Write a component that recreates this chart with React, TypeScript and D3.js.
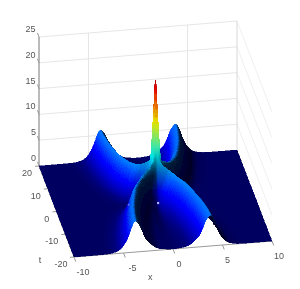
import React, { useEffect, useRef } from 'react';
import * as d3 from 'd3';

// one quadrant of the surface (x >= 0, t >= 0), the picture is mirrored in both axes.
// each row is read across the ridge: inner columns are fractions of the ridge position,
// outer columns are distances past the ridge
const tValues = [0, 0.3, 0.6, 1, 1.5, 2, 3, 4, 5, 7, 10, 14, 20];
const ridgeX = [0.01, 0.05, 0.18, 0.5, 0.9, 1.25, 1.7, 2, 2.3, 2.7, 3.1, 3.5, 3.8];
const innerFractions = [0, 0.35, 0.7, 0.9, 1];
const outerOffsets = [0.12, 0.25, 0.5, 0.75, 1, 1.5, 2, 3, 4, 6.5];
const zRows = [
  [24, 24, 24, 24, 24, 20, 15.5, 8.5, 5.5, 3.8, 2, 1, 0.25, 0.04, 0],
  [15, 15, 15, 15, 15, 13.6, 11, 7, 4.8, 3.5, 1.9, 0.9, 0.2, 0.03, 0],
  [9.8, 9.9, 10, 10, 10, 9.3, 8, 5.9, 4.4, 3.3, 1.8, 0.8, 0.15, 0.02, 0],
  [6, 6.6, 7.6, 8, 8, 7.6, 6.7, 5.3, 4.2, 3.1, 1.6, 0.7, 0.12, 0.02, 0],
  [4, 4.6, 6.2, 7.2, 7.5, 7.2, 6.3, 5.1, 4, 3, 1.4, 0.6, 0.1, 0.01, 0],
  [2.8, 3.4, 5.2, 6.7, 7, 6.8, 6.1, 5, 3.9, 2.8, 1.2, 0.5, 0.08, 0.01, 0],
  [1.4, 2.3, 4.6, 6.2, 6.6, 6.4, 5.9, 4.8, 3.6, 2.5, 1.05, 0.42, 0.06, 0, 0],
  [0.8, 1.7, 4.1, 6, 6.4, 6.2, 5.8, 4.6, 3.4, 2.3, 1, 0.36, 0.05, 0, 0],
  [0.45, 1.4, 3.8, 5.9, 6.3, 6.1, 5.7, 4.4, 3.2, 2.2, 0.9, 0.32, 0.04, 0, 0],
  [0.2, 1, 3.4, 5.8, 6.2, 6, 5.6, 4.3, 3, 2.1, 0.85, 0.3, 0.03, 0, 0],
  [0.06, 0.7, 2.9, 5.4, 6, 5.8, 5.4, 4.2, 2.9, 2, 0.8, 0.3, 0.02, 0, 0],
  [0.03, 0.45, 2.5, 5.3, 6, 5.8, 5.4, 4.2, 2.9, 2, 0.8, 0.3, 0.02, 0, 0],
  [0.02, 0.3, 2.2, 5.3, 6, 5.8, 5.4, 4.2, 2.9, 2, 0.8, 0.3, 0.02, 0, 0],
];

const xTicks = [-10, -5, 0, 5, 10];
const tTicks = [-20, -10, 0, 10, 20];
const zTicks = [0, 5, 10, 15, 20, 25];
const backGridX = [-5, 5];

const width = 300;
const height = 289;

// orthographic view, measured off the box corners
const xToSx = d3.scaleLinear().domain([-10, 10]).range([-99, 99]);
const xToSy = d3.scaleLinear().domain([-10, 10]).range([8, -8]);
const tToSx = d3.scaleLinear().domain([-20, 20]).range([17.5, -17.5]);
const tToSy = d3.scaleLinear().domain([-20, 20]).range([45.5, -45.5]);
const zToSy = d3.scaleLinear().domain([0, 25]).range([0, -129]);
const project = (x: number, t: number, z: number): [number, number] => [
  155.5 + xToSx(x) + tToSx(t),
  203.5 + xToSy(x) + tToSy(t) + zToSy(z),
];

const jet = d3
  .scaleLinear<string>()
  .domain([0, 0.125, 0.375, 0.625, 0.875, 1])
  .range(['#000080', '#0000ff', '#00ffff', '#ffff00', '#ff0000', '#800000'])
  .clamp(true);

// shape-preserving resampling, same idea as shading interp on a non uniform grid
function resample(nodes: number[], values: number[], targets: number[]) {
  const n = nodes.length;
  const h = d3.range(n - 1).map((i) => nodes[i + 1] - nodes[i]);
  const d = h.map((w, i) => (values[i + 1] - values[i]) / w);
  const m = nodes.map((_, i) => {
    if (i === 0) return 0;
    if (i === n - 1) return 0;
    if (d[i - 1] * d[i] <= 0) return 0;
    const a = h[i - 1] + 2 * h[i];
    const b = 2 * h[i - 1] + h[i];
    return (a + b) / (a / d[i - 1] + b / d[i]);
  });
  const bisect = d3.bisector((v: number) => v).right;
  return targets.map((raw) => {
    const v = Math.min(Math.max(raw, nodes[0]), nodes[n - 1]);
    const i = Math.min(Math.max(bisect(nodes, v) - 1, 0), n - 2);
    const s = (v - nodes[i]) / h[i];
    const s2 = s * s;
    const s3 = s2 * s;
    return (
      (2 * s3 - 3 * s2 + 1) * values[i] +
      (s3 - 2 * s2 + s) * h[i] * m[i] +
      (-2 * s3 + 3 * s2) * values[i + 1] +
      (s3 - s2) * h[i] * m[i + 1]
    );
  });
}

const fineAxis = (stops: [number, number][]) => {
  const half: number[] = [];
  let v = 0;
  stops.forEach(([end, step]) => {
    while (v < end - 1e-6) {
      half.push(v);
      v += step;
    }
  });
  half.push(stops[stops.length - 1][0]);
  return [...half.slice(1).reverse().map((d) => -d), ...half];
};

const light = [-0.72, -0.25, 0.65];

const App = () => {
  const svgRef = useRef<SVGSVGElement>(null);

  useEffect(() => {
    const svg = d3.select(svgRef.current);
    svg.selectAll('*').remove();

    const blur = svg.append('defs').append('filter').attr('id', 'soft');
    blur.append('feGaussianBlur').attr('stdDeviation', 0.45);

    const root = svg.append('g').attr('filter', 'url(#soft)');
    const boxColor = '#e6e6e6';
    const addLine = (a: [number, number], b: [number, number], color: string, w = 1) =>
      root
        .append('line')
        .attr('x1', a[0])
        .attr('y1', a[1])
        .attr('x2', b[0])
        .attr('y2', b[1])
        .attr('stroke', color)
        .attr('stroke-width', w);

    // walls
    zTicks.slice(1).forEach((z) => {
      addLine(project(-10, 20, z), project(10, 20, z), boxColor);
      addLine(project(10, 20, z), project(10, -20, z), '#efefef');
    });
    backGridX.forEach((x) => addLine(project(x, 20, 0), project(x, 20, 25), boxColor));
    addLine(project(10, 20, 0), project(10, 20, 25), '#d8d8d8');

    // axes and ticks
    const axisColor = '#777';
    addLine(project(-10, 20, 0), project(-10, 20, 25), axisColor);
    addLine(project(-10, -20, 0), project(10, -20, 0), '#999');
    addLine(project(-10, 20, 0), project(-10, -20, 0), '#999');
    zTicks.forEach((z) => addLine(project(-10, 20, z), project(-10, 21.8, z), '#999'));
    xTicks.forEach((x) => addLine(project(x, -20, 0), project(x, -22, 0), '#999'));
    tTicks.forEach((t) => addLine(project(-10, t, 0), project(-10.4, t, 0), '#999'));

    // surface: walk the table along the ridge in t, then across it in x
    const xFine = fineAxis([[0.6, 0.04], [6.5, 0.12], [10, 0.7]]);
    const tFine = fineAxis([[1, 0.04], [3, 0.1], [20, 0.4]]);
    const tAbs = tFine.map(Math.abs);
    const columns = d3.range(zRows[0].length).map((c) =>
      resample(tValues, zRows.map((r) => r[c]), tAbs)
    );
    const ridgeFine = resample(tValues, ridgeX, tAbs);
    const grid = tFine.map((_, i) => {
      const r = ridgeFine[i];
      const nodes = [...innerFractions.map((u) => u * r), ...outerOffsets.map((d) => r + d)];
      return resample(nodes, columns.map((col) => col[i]), xFine.map(Math.abs));
    });
    const zAt = (i: number, j: number) => grid[i][j];

    const lNorm = Math.hypot(light[0], light[1], light[2]);
    const shade = (i: number, j: number, z: number) => {
      const i0 = Math.max(i - 1, 0);
      const i1 = Math.min(i + 1, tFine.length - 1);
      const j0 = Math.max(j - 1, 0);
      const j1 = Math.min(j + 1, xFine.length - 1);
      const dzdx = (zAt(i, j1) - zAt(i, j0)) / (xFine[j1] - xFine[j0]);
      const dzdt = (zAt(i1, j) - zAt(i0, j)) / (tFine[i1] - tFine[i0]);
      const nx = -dzdx * 0.4;
      const nt = -dzdt * 0.8;
      const len = Math.hypot(nx, nt, 1);
      const dot = (nx * light[0] + nt * light[1] + light[2]) / (len * lNorm);
      const k = 0.2 + 0.85 * Math.max(dot, 0);
      // the tall spike keeps its colours, the lighting only bites low down
      const keep = Math.min(Math.max((z - 6) / 5, 0), 1);
      return k + (0.9 - k) * keep;
    };

    const surface = root.append('g').attr('shape-rendering', 'crispEdges');
    for (let i = tFine.length - 2; i >= 0; i--) {
      for (let j = xFine.length - 2; j >= 0; j--) {
        const a = project(xFine[j], tFine[i], zAt(i, j));
        const b = project(xFine[j + 1], tFine[i], zAt(i, j + 1));
        const c = project(xFine[j + 1], tFine[i + 1], zAt(i + 1, j + 1));
        const d = project(xFine[j], tFine[i + 1], zAt(i + 1, j));
        const zMid = (zAt(i, j) + zAt(i, j + 1) + zAt(i + 1, j + 1) + zAt(i + 1, j)) / 4;
        const base = d3.rgb(jet(zMid / 25));
        const k = shade(i, j, zMid);
        const color = d3.rgb(
          Math.min(base.r * k, 255),
          Math.min(base.g * k, 255),
          Math.min(base.b * k, 255)
        );
        surface
          .append('path')
          .attr('d', `M${a}L${b}L${c}L${d}Z`)
          .attr('fill', color.formatHex())
          .attr('stroke', color.formatHex())
          .attr('stroke-width', 0.5);
      }
    }

    // specular spots on the dome
    const spot = project(0, -3, 1.6);
    root
      .append('circle')
      .attr('cx', spot[0])
      .attr('cy', spot[1] + 1)
      .attr('r', 1.2)
      .attr('fill', '#b4b4ff');
    const spotLeft = project(-3.1, -10, 2.5);
    root
      .append('circle')
      .attr('cx', spotLeft[0] - 5)
      .attr('cy', spotLeft[1] - 11)
      .attr('r', 1)
      .attr('fill', '#6a6aff');

    // labels
    const labels = svg
      .append('g')
      .attr('font-family', 'Liberation Sans')
      .attr('font-size', 9)
      .attr('fill', '#555')
      .attr('text-anchor', 'middle')
      .attr('dominant-baseline', 'central')
      .attr('filter', 'url(#soft)');
    const addText = (p: [number, number], s: string | number, dx: number, dy: number) =>
      labels.append('text').attr('x', p[0] + dx).attr('y', p[1] + dy).text(s);

    const tLabelDx = [-13, -13.5, -9.75, -12, -12];
    const xLabelDx = [9, 9, 6, 5, 7];
    zTicks.forEach((z) => addText(project(-10, 20, z), z, z < 10 ? -5.5 : -8.5, -8));
    tTicks.forEach((t, i) => addText(project(-10, t, 0), t, tLabelDx[i], 7));
    xTicks.forEach((x, i) => addText(project(x, -20, 0), x, xLabelDx[i], 15));
    addText(project(-10, -20, 0), 't', -34, 3);
    addText(project(-1.5, -20, 0), 'x', -8, 27);
  }, []);

  return (
    <svg
      ref={svgRef}
      width={width}
      height={height}
      style={{ position: 'absolute', left: 0, top: 0, background: '#fff' }}
    />
  );
};

export default App;
